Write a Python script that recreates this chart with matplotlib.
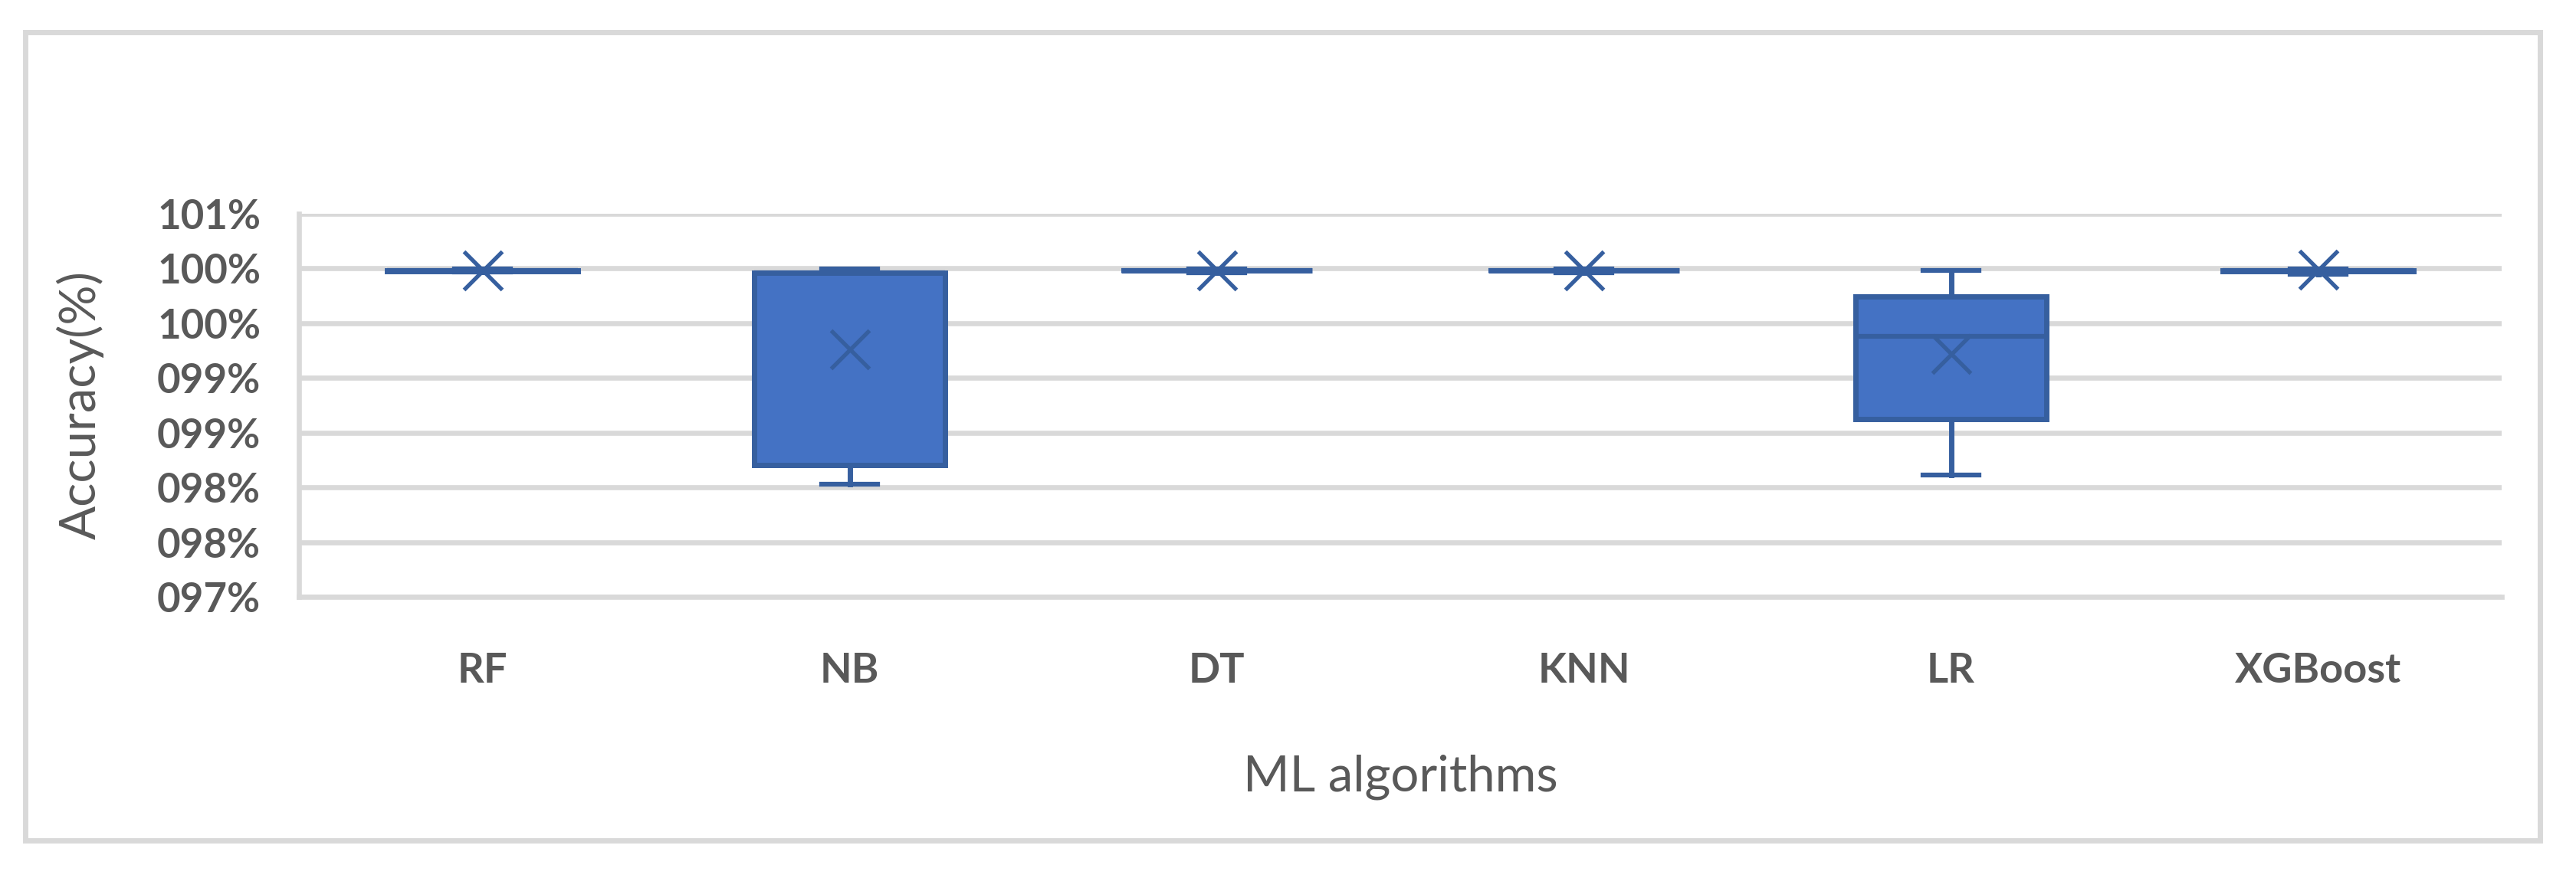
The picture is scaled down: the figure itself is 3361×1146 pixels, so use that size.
import matplotlib.pyplot as plt
from matplotlib.patches import Rectangle

algorithms = ['RF', 'NB', 'DT', 'KNN', 'LR', 'XGBoost']
whis_low = [0.99965, 0.98028, 0.99960, 0.99962, 0.98115, 0.99945]
q1 = [0.99977, 0.98203, 0.99980, 0.99979, 0.98622, 0.99978]
medians = [0.99979, 0.99958, 0.99981, 0.99980, 0.99378, 0.99979]
q3 = [0.99981, 0.99958, 0.99983, 0.99982, 0.99745, 0.99981]
whis_high = [0.99995, 0.99993, 0.99995, 0.99995, 0.99983, 0.99995]
means = [0.99982, 0.99259, 0.99984, 0.99984, 0.99220, 0.99986]

ytick_vals = [0.970, 0.975, 0.980, 0.985, 0.990, 0.995, 1.000, 1.005]
ytick_labels = ['097%', '098%', '098%', '099%', '099%', '100%', '100%', '101%']

edge = '#365F9F'
fill = '#4472C4'
grid = '#D9D9D9'
txt = '#595959'

W, H = 3361, 1146
fig = plt.figure(figsize=(W / 100, H / 100), dpi=100)
ax = fig.add_axes([390 / W, 1 - 779 / H, (3264 - 390) / W, (779 - 279) / H])

stats = []
for i in range(len(algorithms)):
    stats.append({'whislo': whis_low[i], 'q1': q1[i], 'med': medians[i],
                  'q3': q3[i], 'whishi': whis_high[i], 'mean': means[i],
                  'fliers': []})

pos = list(range(1, len(algorithms) + 1))
ax.bxp(stats, positions=pos, widths=0.52, patch_artist=True, showmeans=True,
       showfliers=False,
       boxprops=dict(facecolor=fill, edgecolor=edge, linewidth=5),
       medianprops=dict(color=edge, linewidth=4.5),
       whiskerprops=dict(color=edge, linewidth=5),
       capprops=dict(color=edge, linewidth=4.5),
       capwidths=0.152,
       meanprops=dict(marker='x', markersize=36, markeredgewidth=3.8,
                      markeredgecolor=edge, markerfacecolor=edge),
       zorder=3)

ax.set_xlim(0.5, len(algorithms) + 0.5)
ax.set_ylim(0.97, 1.005)
ax.set_yticks(ytick_vals)
ax.set_yticklabels(ytick_labels)
ax.set_xticks(pos)
ax.set_xticklabels(algorithms)

for lab in ax.get_yticklabels():
    lab.set_fontfamily('Lato')
    lab.set_fontweight('bold')
    lab.set_fontsize(38)
    lab.set_color(txt)
for lab in ax.get_xticklabels():
    lab.set_fontfamily('Lato')
    lab.set_fontweight('bold')
    lab.set_fontsize(39)
    lab.set_color(txt)

ax.tick_params(axis='y', length=0, pad=36)
ax.tick_params(axis='x', length=0, pad=52)
ax.yaxis.grid(True, color=grid, linewidth=4.8, zorder=0)
ax.set_axisbelow(True)
for s in ['top', 'right']:
    ax.spines[s].set_visible(False)
for s in ['left', 'bottom']:
    ax.spines[s].set_color(grid)
    ax.spines[s].set_linewidth(4.8)

fig.text(1827 / W, 1 - 1014 / H, 'ML algorithms', ha='center', va='center',
         fontsize=47, color=txt, family='Lato')
fig.text(105 / W, 1 - 529 / H, 'Accuracy(%)', ha='center', va='center',
         rotation=90, fontsize=47, color=txt, family='Lato')

fig.patches.append(Rectangle((33 / W, 1 - 1097 / H), (3314 - 33) / W,
                             (1097 - 42) / H, transform=fig.transFigure,
                             fill=False, edgecolor=grid, linewidth=5))

fig.savefig('out.png', dpi=100, facecolor='white')
